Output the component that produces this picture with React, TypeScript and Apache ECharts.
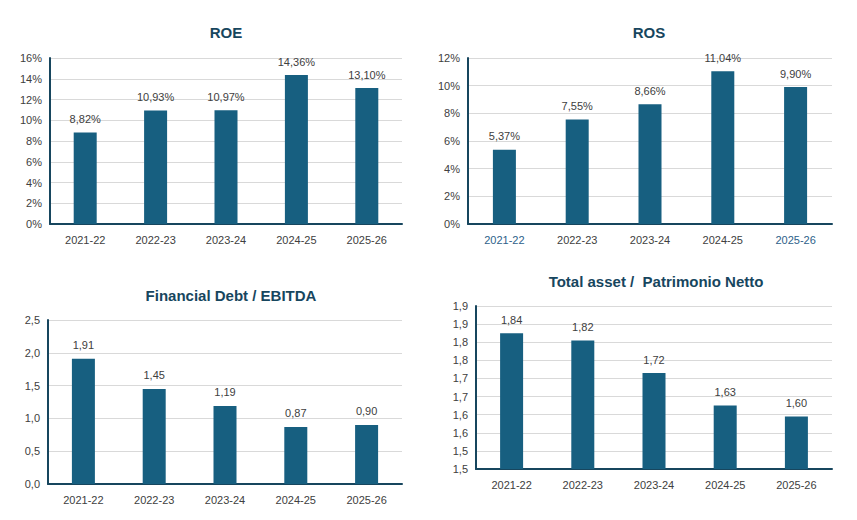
import { useEffect, useRef } from 'react';
import * as echarts from 'echarts';

const years = ['2021-22', '2022-23', '2023-24', '2024-25', '2025-26'];
const roe = [8.82, 10.93, 10.97, 14.36, 13.1];
const ros = [5.37, 7.55, 8.66, 11.04, 9.9];
const debtEbitda = [1.91, 1.45, 1.19, 0.87, 0.9];
// bar heights as drawn vs. the printed labels
const assetHeights = [1.875, 1.855, 1.765, 1.675, 1.645];
const assetLabels = ['1,84', '1,82', '1,72', '1,63', '1,60'];
const assetTicks = ['1,5', '1,5', '1,6', '1,6', '1,7', '1,7', '1,8', '1,8', '1,9', '1,9'];

const BAR = '#175f80';
const DARK = '#17465e';
const TXT = '#404040';
const FONT = 'Liberation Sans, Arial, sans-serif';

const comma = (v: number, d: number) => v.toFixed(d).replace('.', ',');

export default function App() {
  const ref = useRef<HTMLDivElement>(null);

  useEffect(() => {
    if (!ref.current) return;
    const chart = echarts.init(ref.current, null, { renderer: 'svg' });

    const grids = [
      { left: 42, right: 447, top: 50, height: 166 },
      { left: 460, right: 17, top: 50, height: 166 },
      { left: 40, right: 447, top: 312, height: 164 },
      { left: 468, right: 17, top: 298, height: 163 },
    ];
    const titles = [
      { text: 'ROE', left: 213, top: 12 },
      { text: 'ROS', left: 636, top: 12 },
      { text: 'Financial Debt / EBITDA', left: 218, top: 275 },
      { text: 'Total asset /  Patrimonio Netto', left: 643, top: 261 },
    ];
    const yAxes: any[] = [
      { min: 0, max: 16, interval: 2, fmt: (v: number) => v + '%' },
      { min: 0, max: 12, interval: 2, fmt: (v: number) => v + '%' },
      { min: 0, max: 2.5, interval: 0.5, fmt: (v: number) => comma(v, 1) },
      { min: 1.5, max: 1.95, interval: 0.05, fmt: (v: number) => assetTicks[Math.round((v - 1.5) / 0.05)] ?? '' },
    ];
    const data = [roe, ros, debtEbitda, assetHeights];
    const labelFmt = [
      (p: any) => comma(p.value, 2) + '%',
      (p: any) => comma(p.value, 2) + '%',
      (p: any) => comma(p.value, 2),
      (p: any) => assetLabels[p.dataIndex],
    ];
    const rosBlue = ['2021-22', '2025-26'];

    chart.setOption({
      animation: false,
      textStyle: { fontFamily: FONT },
      title: titles.map((t) => ({
        text: t.text,
        left: t.left,
        top: t.top,
        textAlign: 'center',
        textStyle: { fontSize: 15, fontWeight: 'bold', color: DARK, fontFamily: FONT },
      })),
      grid: grids,
      xAxis: grids.map((_, i) => ({
        type: 'category',
        gridIndex: i,
        data: years,
        axisLine: { lineStyle: { color: DARK, width: 2 } },
        axisTick: { show: false },
        axisLabel: {
          fontSize: 11,
          margin: 10,
          color: i === 1 ? (v: string) => (rosBlue.includes(v) ? '#2e5f8a' : TXT) : TXT,
        },
      })),
      yAxis: yAxes.map((y, i) => ({
        type: 'value',
        gridIndex: i,
        min: y.min,
        max: y.max,
        interval: y.interval,
        axisLine: { show: true, lineStyle: { color: DARK, width: 2 } },
        axisTick: { show: false },
        splitLine: { lineStyle: { color: '#d9d9d9' } },
        axisLabel: { formatter: y.fmt, fontSize: 11, color: TXT, margin: 8 },
      })),
      series: data.map((d, i) => ({
        type: 'bar',
        xAxisIndex: i,
        yAxisIndex: i,
        data: d,
        barWidth: 23,
        itemStyle: { color: BAR },
        label: {
          show: true,
          position: 'top',
          distance: 8,
          formatter: labelFmt[i],
          fontSize: 11,
          color: TXT,
        },
      })),
    });

    return () => chart.dispose();
  }, []);

  return <div ref={ref} style={{ width: 841, height: 504 }} />;
}
